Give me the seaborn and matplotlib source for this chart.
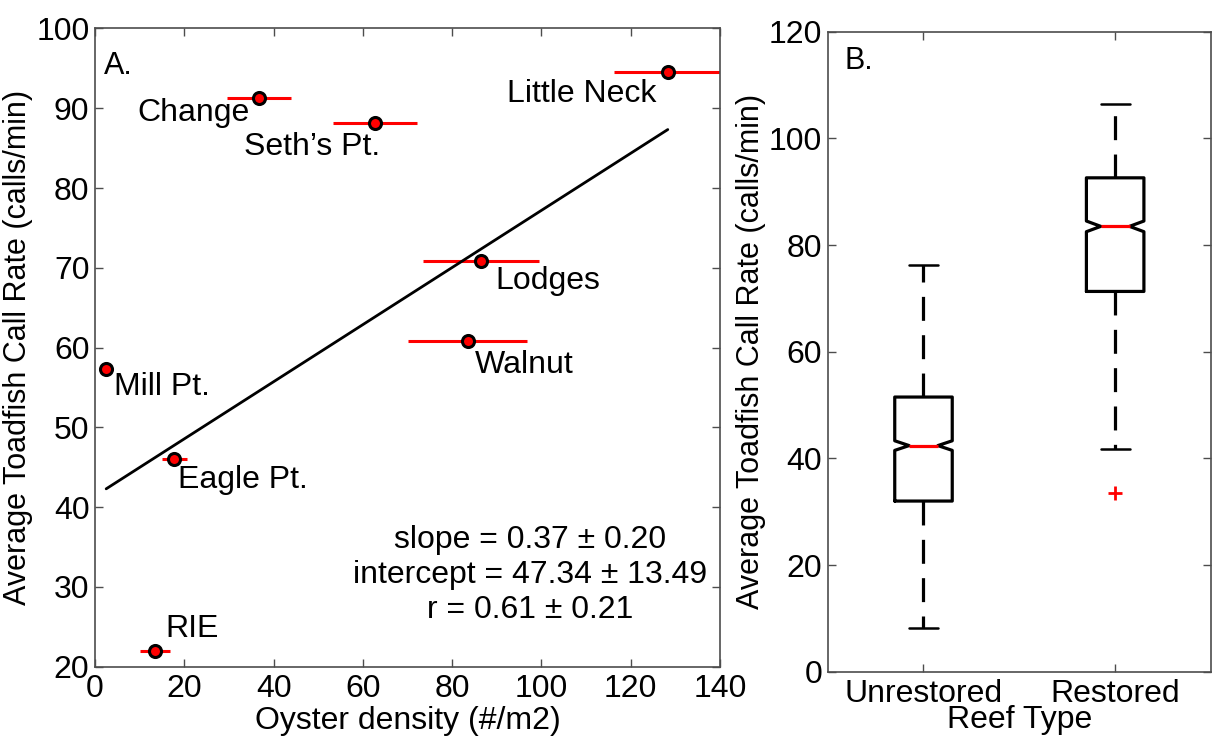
import numpy as np
import pandas as pd
import matplotlib.pyplot as plt
import seaborn as sns

# panel A - sites, oyster density vs call rate
sites = ["Little Neck", "Change", "Seth\u2019s Pt.", "Lodges", "Walnut", "Mill Pt.", "Eagle Pt.", "RIE"]
oyster_density = [128.3, 36.7, 62.8, 86.4, 83.5, 2.5, 17.8, 13.4]
density_err = [12.0, 7.1, 9.4, 13.0, 13.3, 0.8, 2.8, 3.4]
call_rate = [94.5, 91.25, 88.2, 70.9, 60.8, 57.3, 46.0, 22.0]
fit_slope = 0.358
fit_intercept = 41.4
stats_lines = ["slope = 0.37 \u00b1 0.20", "intercept = 47.34 \u00b1 13.49", "r = 0.61 \u00b1 0.21"]

# where the site names go (left edge, vertical centre)
label_xy = [(92.3, 91.8), (9.6, 89.4), (33.4, 85.2), (89.6, 68.3),
            (85.0, 57.8), (4.2, 55.1), (18.7, 43.4), (15.7, 24.7)]

# panel B - box stats per reef type
reef_types = ["Unrestored", "Restored"]
box_med = [42.4, 83.5]
box_q1 = [32.0, 71.3]
box_q3 = [51.5, 92.6]
box_lo = [8.2, 41.8]
box_hi = [76.2, 106.4]
notch_lo = [41.5, 82.5]
notch_hi = [43.3, 84.5]
outliers = [[], [33.6]]

sns.set_style("ticks")
plt.rcParams["font.family"] = ["Liberation Sans", "DejaVu Sans"]
plt.rcParams["text.color"] = "black"
plt.rcParams["axes.labelcolor"] = "black"
plt.rcParams["axes.edgecolor"] = "0.3"
plt.rcParams["xtick.color"] = "0.3"
plt.rcParams["ytick.color"] = "0.3"
plt.rcParams["xtick.labelcolor"] = "black"
plt.rcParams["ytick.labelcolor"] = "black"

fig = plt.figure(figsize=(12.15, 7.42), dpi=100)
ax1 = fig.add_axes([0.0782, 0.1015, 0.5144, 0.8601])
ax2 = fig.add_axes([0.6812, 0.0947, 0.3155, 0.8626])

# ---- A ----
df = pd.DataFrame({"site": sites, "density": oyster_density, "err": density_err, "rate": call_rate})
ax1.errorbar(df["density"], df["rate"], xerr=df["err"], fmt="none", ecolor="red",
             elinewidth=2.2, capsize=0, zorder=2)
xfit = np.array([df["density"].min(), df["density"].max()])
sns.lineplot(x=xfit, y=fit_intercept + fit_slope * xfit, ax=ax1, color="black", linewidth=2, zorder=2.5)
sns.scatterplot(data=df, x="density", y="rate", ax=ax1, s=75, color="red",
                edgecolor="black", linewidth=2.2, zorder=3)

for name, (lx, ly) in zip(sites, label_xy):
    ax1.text(lx, ly, name, fontsize=23, ha="left", va="center")

ax1.text(97.4, 31.5, "\n".join(stats_lines), fontsize=23, ha="center", va="center",
         multialignment="center", linespacing=1.22)
ax1.text(0.015, 0.965, "A.", transform=ax1.transAxes, fontsize=22, va="top")

ax1.set_xlim(0, 140)
ax1.set_ylim(20, 100)
ax1.set_xticks(range(0, 141, 20))
ax1.set_yticks(range(20, 101, 10))
ax1.set_xlabel("Oyster density (#/m2)", fontsize=23, labelpad=2)
ax1.set_ylabel("Average Toadfish Call Rate (calls/min)", fontsize=22, labelpad=2)

# ---- B ----
bstats = []
for i, name in enumerate(reef_types):
    bstats.append(dict(label=name, med=box_med[i], q1=box_q1[i], q3=box_q3[i],
                       whislo=box_lo[i], whishi=box_hi[i],
                       cilo=notch_lo[i], cihi=notch_hi[i], fliers=outliers[i]))

ax2.bxp(bstats, positions=[1, 2], widths=0.3, shownotches=True,
        boxprops=dict(color="black", linewidth=2.3),
        whiskerprops=dict(color="black", linewidth=2.3, linestyle=(0, (7.5, 4.5))),
        capprops=dict(color="black", linewidth=1.8),
        medianprops=dict(color="red", linewidth=2.3),
        flierprops=dict(marker="+", markeredgecolor="red", markersize=10, markeredgewidth=2))

ax2.set_xlim(0.5, 2.5)
ax2.set_ylim(0, 120)
ax2.set_yticks(range(0, 121, 20))
ax2.set_xticks([1, 2])
ax2.set_xticklabels(reef_types)
ax2.text(0.043, 0.977, "B.", transform=ax2.transAxes, fontsize=22, va="top")
ax2.set_xlabel("Reef Type", fontsize=23, labelpad=-3)
ax2.set_ylabel("Average Toadfish Call Rate (calls/min)", fontsize=22, labelpad=2)

for ax in (ax1, ax2):
    ax.tick_params(direction="in", top=True, right=True, length=6, width=1, labelsize=23)
    ax.tick_params(axis="x", pad=5)
    ax.tick_params(axis="y", pad=4)
    for sp in ax.spines.values():
        sp.set_linewidth(1.2)

fig.savefig("out.png", dpi=100)
